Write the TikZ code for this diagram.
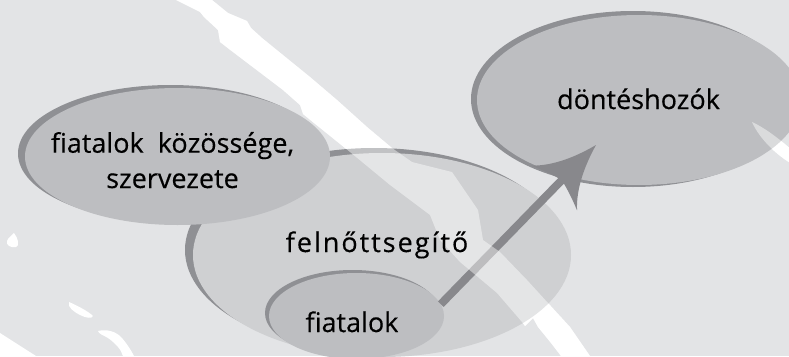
\documentclass[tikz,border=0pt]{standalone}
\usepackage{fontspec}
\setmainfont[FakeBold=0.3]{Open Sans}
\newfontfamily\spacedfont[LetterSpace=7.4,FakeBold=0.3]{Open Sans}
\usetikzlibrary{shapes.geometric,arrows.meta}
\definecolor{bgc}{HTML}{E3E4E6}
\definecolor{blobc}{HTML}{BDBEC1}
\definecolor{bigc}{HTML}{CFD0D2}
\definecolor{shadowc}{HTML}{8F9094}
\definecolor{arrowc}{HTML}{88888C}
\pgfdeclarearrow{
  name=Swoosh,
  setup code={
    \pgfarrowssettipend{0pt}
    \pgfarrowssetlineend{-46pt}
    \pgfarrowssetvisualbackend{-60pt}
    \pgfarrowssetbackend{-60pt}
    \pgfarrowsupperhullpoint{0pt}{0pt}
    \pgfarrowsupperhullpoint{-60pt}{32pt}
  },
  drawing code={
    \pgfpathmoveto{\pgfqpoint{0pt}{0pt}}
    \pgfpathcurveto{\pgfqpoint{-22pt}{6pt}}{\pgfqpoint{-45pt}{16pt}}{\pgfqpoint{-60pt}{32pt}}
    \pgfpathcurveto{\pgfqpoint{-54pt}{18pt}}{\pgfqpoint{-51pt}{8pt}}{\pgfqpoint{-49pt}{0pt}}
    \pgfpathcurveto{\pgfqpoint{-51pt}{-8pt}}{\pgfqpoint{-54pt}{-18pt}}{\pgfqpoint{-60pt}{-32pt}}
    \pgfpathcurveto{\pgfqpoint{-45pt}{-16pt}}{\pgfqpoint{-22pt}{-6pt}}{\pgfqpoint{0pt}{0pt}}
    \pgfpathclose
    \pgfusepathqfill
  }
}
\def\streakmain{(176,0) -- (200,12) -- (204,17) -- (218,30) -- (220,42) -- (229,49) -- (283,90) -- (300,105) -- (303,114) -- (314,123) -- (350,152) -- (390,185) -- (430,215) -- (440,240) -- (460,262) -- (497,293) -- (522,322) -- (525,326) -- (533,318) -- (538,327) -- (551,343) -- (561,356) -- (590,356) -- (570,327) -- (548,303) -- (527,280) -- (500,252) -- (483,240) -- (478,210) -- (452,172) -- (412,162) -- (392,148) -- (367,127) -- (337,100) -- (310,77) -- (262,38) -- (251,28) -- (247,21) -- (228,13) -- (212,0) -- cycle}
\def\streakright{(752,122) .. controls (765,128) and (778,138) .. (792,150) -- (792,164) .. controls (778,156) and (760,140) .. (752,122) -- cycle}
\begin{document}
\begin{tikzpicture}[x=1pt,y=-1pt,
  shadowell/.style={ellipse, fill=shadowc, draw=none, inner sep=0pt},
  blobell/.style={ellipse, fill=blobc, draw=none, inner sep=0pt},
  bigell/.style={ellipse, fill=bigc, draw=none, inner sep=0pt},
  lbl/.style={font=\fontsize{27}{35.3}\selectfont, text=black, inner sep=0pt, align=center},
  streak/.style={fill=white, draw=none},
  arrowline/.style={draw=arrowc, fill=arrowc, line width=8pt, -Swoosh}]
\useasboundingbox (0,0) rectangle (789,356);
\fill[bgc] (0,0) rectangle (789,356);
\clip (0,0) rectangle (789,356);
% white strokes in the background
\fill[streak] \streakmain;
\fill[streak] \streakright;
\fill[streak] (0,333) -- (36,356) -- (0,356) -- cycle;
\fill[streak] (14,233) .. controls (18,238) and (20,246) .. (16,247) .. controls (10,248) and (6,245) .. (7,241) .. controls (8,238) and (11,236) .. (14,233) -- cycle;
\fill[streak] (69,302) .. controls (76,305) and (88,311) .. (93,316) .. controls (92,319) and (86,318) .. (80,315) .. controls (74,312) and (67,307) .. (69,302) -- cycle;
\fill[streak] (98,331) .. controls (106,329) and (116,331) .. (122,338) .. controls (127,344) and (131,350) .. (134,356) -- (123,356) .. controls (121,349) and (115,343) .. (108,338) .. controls (103,335) and (99,334) .. (98,331) -- cycle;
% ellipses
\node[shadowell, minimum width=378pt, minimum height=204pt] (feltS) at (374,250) {};
\node[bigell, minimum width=378pt, minimum height=204pt] (felt) at (382,255) {};
\node[shadowell, minimum width=305pt, minimum height=137pt] (kozS) at (170.5,153.5) {};
\node[blobell, minimum width=305pt, minimum height=137pt] (koz) at (177.5,156.5) {};
\node[shadowell, minimum width=175pt, minimum height=86pt] (fiatS) at (352.5,313) {};
\node[blobell, minimum width=175pt, minimum height=86pt] (fiat) at (356.5,316) {};
\node[shadowell, minimum width=324pt, minimum height=176pt] (dontS) at (633,99) {};
\node[blobell, minimum width=324pt, minimum height=170pt] (dont) at (639,100) {};
% arrow
\coordinate (tip) at (596,145);
\draw[arrowline] (fiat.8) -- (tip);
% translucent white strokes over the shapes
\fill[streak, fill opacity=0.45] \streakmain;
\fill[streak, fill opacity=0.45] \streakright;
% labels
\node[lbl, anchor=base] (tkoz) at (172.5,188) {fiatalok\ \ közössége,\\szervezete};
\node[lbl, anchor=base] (tdont) at (638.5,109) {döntéshozók};
\node[lbl, anchor=base] (tfelt) at (377,252) {\spacedfont felnőttsegítő};
\node[lbl, anchor=base] (tfiat) at (352,332) {fiatalok};
\end{tikzpicture}
\end{document}
